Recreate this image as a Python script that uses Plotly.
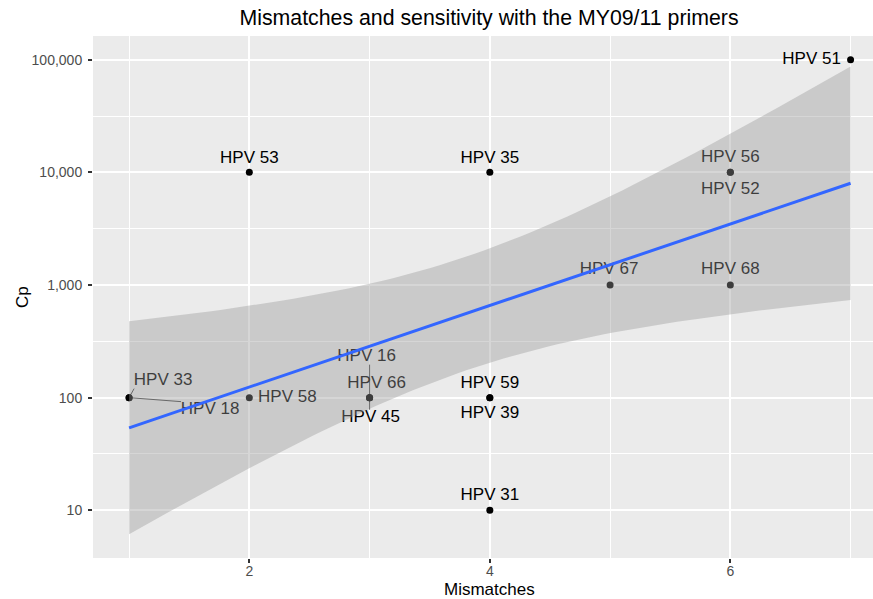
import math
import numpy as np
import plotly.graph_objects as go

# ---- data -------------------------------------------------------------
hpv_types = ["HPV 33", "HPV 18", "HPV 58", "HPV 53", "HPV 16", "HPV 66", "HPV 45",
             "HPV 35", "HPV 59", "HPV 39", "HPV 31", "HPV 67", "HPV 56", "HPV 52",
             "HPV 68", "HPV 51"]
mismatches = [1, 1, 2, 2, 3, 3, 3, 4, 4, 4, 4, 5, 6, 6, 6, 7]
cp = [100, 100, 100, 10000, 100, 100, 100, 10000, 100, 100, 10, 1000, 10000, 10000,
      1000, 100000]

x_major = [2, 4, 6]
x_minor = [1, 3, 5, 7]
y_ticks = [10, 100, 1000, 10000, 100000]
y_tick_labels = ["10", "100", "1,000", "10,000", "100,000"]

# label placement (screen px offsets from the point: right, up) and leader flag
label_offsets = {
    "HPV 33": (34, 17, True), "HPV 18": (81, -12, True), "HPV 58": (38, 0, False),
    "HPV 53": (0, 14, False), "HPV 16": (-3, 41, True), "HPV 66": (7, 14, False),
    "HPV 45": (1, -20, True), "HPV 35": (0, 14, False), "HPV 59": (0, 14, False),
    "HPV 39": (0, -16, False), "HPV 31": (0, 15, False), "HPV 67": (-1, 15, False),
    "HPV 56": (0, 15, False), "HPV 52": (0, -17, False), "HPV 68": (0, 15, False),
    "HPV 51": (-39, 0, False),
}

# ---- page geometry ----------------------------------------------------
W, H = 873, 599
M_L, M_R, M_T, M_B = 93, 0, 36, 41
FONT = "Liberation Sans, Arial, Helvetica, sans-serif"

# ---- linear fit of log10(Cp) on mismatches with 95% band --------------
x = np.array(mismatches, dtype=float)
ly = np.log10(np.array(cp, dtype=float))
n = len(x)
sxx = np.sum((x - x.mean()) ** 2)
slope = np.sum((x - x.mean()) * (ly - ly.mean())) / sxx
intercept = ly.mean() - slope * x.mean()
resid = ly - (intercept + slope * x)
s = math.sqrt(np.sum(resid ** 2) / (n - 2))


def t_quantile(p, df):
    c = math.exp(math.lgamma((df + 1) / 2) - math.lgamma(df / 2)) / math.sqrt(df * math.pi)

    def cdf(t):
        g = np.linspace(0, t, 4001)
        f = c * (1 + g ** 2 / df) ** (-(df + 1) / 2)
        return 0.5 + np.trapezoid(f, g)

    lo, hi = 0.0, 20.0
    for _ in range(80):
        mid = (lo + hi) / 2
        if cdf(mid) < p:
            lo = mid
        else:
            hi = mid
    return (lo + hi) / 2


tq = t_quantile(0.975, n - 2)
xs = np.linspace(x.min(), x.max(), 80)
fit = intercept + slope * xs
se = s * np.sqrt(1 / n + (xs - x.mean()) ** 2 / sxx)
upper = fit + tq * se
lower = fit - tq * se

# axis ranges (5% expansion of everything drawn, x cut at the page edge)
y_lo = min(ly.min(), lower.min())
y_hi = max(ly.max(), upper.max())
y_pad = 0.05 * (y_hi - y_lo)
y_range = [y_lo - y_pad, y_hi + y_pad]
x_pad = 0.05 * (x.max() - x.min())
x_full = [x.min() - x_pad, x.max() + x_pad]
plot_w = W - M_L - M_R
plot_h = H - M_T - M_B
px_x = 120.25  # px per mismatch
x_range = [x_full[0], x_full[0] + plot_w / px_x]
px_y = plot_h / (y_range[1] - y_range[0])

# ---- label positions and leader segments in data space ----------------
LBL_W, LBL_H = 58, 16
lx, lyv = [], []
seg_x, seg_y = [], []
for name, mx, v in zip(hpv_types, mismatches, cp):
    dx, dy, lead = label_offsets[name]
    lx.append(mx + dx / px_x)
    lyv.append(10 ** (math.log10(v) + dy / px_y))
    if lead:
        # nearest point of the label box to the data point
        ex = min(max(0, dx - LBL_W / 2), dx + LBL_W / 2)
        ey = min(max(0, dy - LBL_H / 2), dy + LBL_H / 2)
        seg_x += [mx, mx + ex / px_x, None]
        seg_y += [v, 10 ** (math.log10(v) + ey / px_y), None]

fig = go.Figure()
fig.add_trace(go.Scatter(x=seg_x, y=seg_y, mode="lines",
                         line=dict(color="black", width=0.7), hoverinfo="skip"))
fig.add_trace(go.Scatter(x=mismatches, y=cp, mode="markers",
                         marker=dict(color="black", size=7, line=dict(width=0)),
                         text=hpv_types, hoverinfo="text"))
fig.add_trace(go.Scatter(x=lx, y=lyv, mode="text", text=hpv_types,
                         textposition="middle center",
                         textfont=dict(family=FONT, size=17, color="black"),
                         hoverinfo="skip"))
fig.add_trace(go.Scatter(x=np.concatenate([xs, xs[::-1]]),
                         y=10 ** np.concatenate([upper, lower[::-1]]),
                         mode="lines", fill="toself",
                         fillcolor="rgba(153,153,153,0.4)",
                         line=dict(width=0), hoverinfo="skip"))
fig.add_trace(go.Scatter(x=xs, y=10 ** fit, mode="lines",
                         line=dict(color="#3366FF", width=3), hoverinfo="skip"))

tick_style = dict(ticks="outside", ticklen=4, tickwidth=1.5, tickcolor="#333333",
                  tickfont=dict(family=FONT, size=14, color="#4D4D4D"),
                  showline=False, zeroline=False, gridcolor="white", gridwidth=1.7)

fig.update_xaxes(range=x_range, tickmode="array", tickvals=x_major,
                 ticklabelstandoff=-4,
                 minor=dict(tickmode="array", tickvals=x_minor, showgrid=True,
                            gridcolor="white", gridwidth=0.85, ticklen=0),
                 **tick_style)
fig.update_yaxes(type="log", range=y_range, tickmode="array", tickvals=y_ticks,
                 ticktext=y_tick_labels, ticklabelstandoff=3,
                 minor=dict(tickmode="array",
                            tickvals=[10 ** (k + 0.5) for k in range(0, 5)],
                            showgrid=True, gridcolor="white", gridwidth=0.85,
                            ticklen=0),
                 **tick_style)

fig.update_layout(
    width=W, height=H,
    margin=dict(l=M_L, r=M_R, t=M_T, b=M_B, pad=0),
    plot_bgcolor="#EBEBEB", paper_bgcolor="white",
    showlegend=False,
    title=dict(text="Mismatches and sensitivity with the MY09/11 primers",
               xref="container", yref="container", x=489 / W, y=1 - 18 / H,
               xanchor="center", yanchor="middle",
               font=dict(family=FONT, size=21.3, color="black")),
    annotations=[
        dict(text="Mismatches", xref="paper", yref="paper",
             x=(489 - M_L) / plot_w, y=-(589 - (H - M_B)) / plot_h,
             xanchor="center", yanchor="middle", showarrow=False,
             font=dict(family=FONT, size=17, color="black")),
        dict(text="Cp", xref="paper", yref="paper",
             x=(22 - M_L) / plot_w, y=0.5, textangle=-90,
             xanchor="center", yanchor="middle", showarrow=False,
             font=dict(family=FONT, size=17, color="black")),
    ],
)

fig.write_html("out.html")
